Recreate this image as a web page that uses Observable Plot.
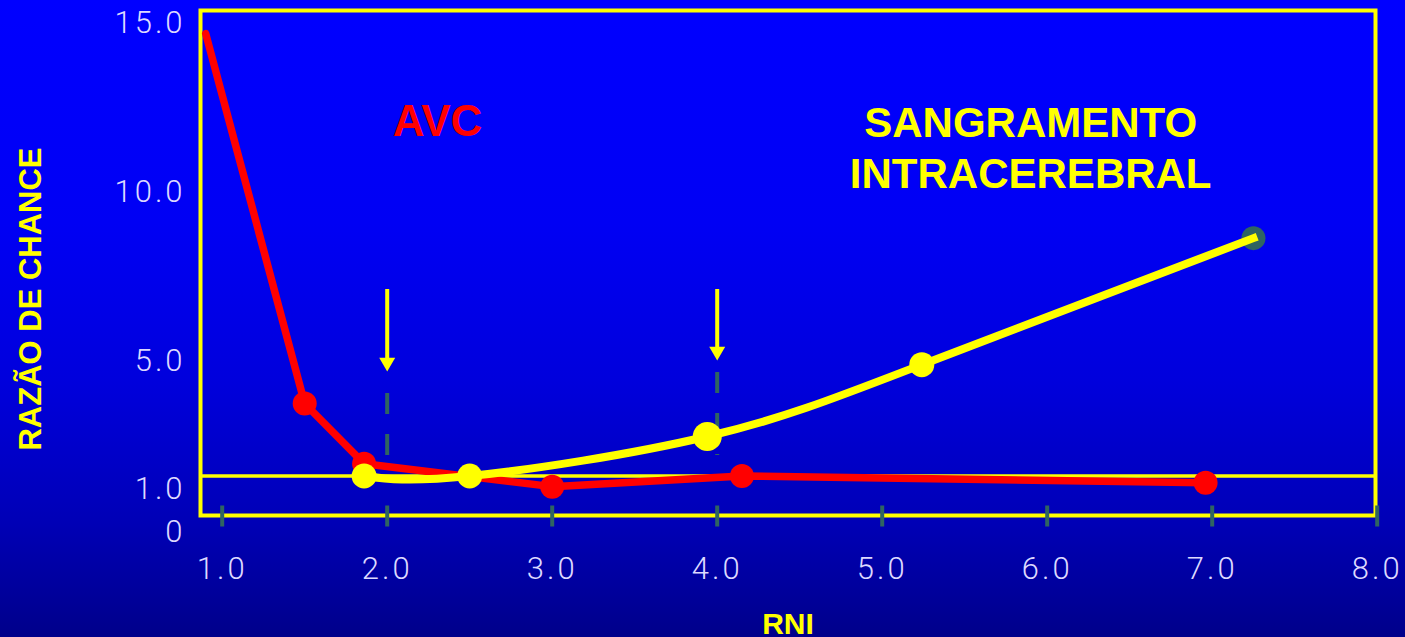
<!DOCTYPE html>
<html>
<head>
<meta charset="utf-8">
<script src="https://cdn.jsdelivr.net/npm/d3@7"></script>
<script src="https://cdn.jsdelivr.net/npm/@observablehq/plot@0.6"></script>
<style>
  html, body { margin: 0; padding: 0; }
  body {
    width: 1405px; height: 637px; overflow: hidden;
    background: linear-gradient(to bottom, #0000ff 0%, #0000f4 35%, #0000dc 60%, #0000b6 82%, #00008a 100%);
  }
  #chart svg { display: block; }
  .rnichart [aria-label$="tick label"] { letter-spacing: 3px; }
</style>
</head>
<body>
<div id="chart"></div>
<script>
// Odds ratio against INR (RNI): ischaemic stroke (AVC) vs intracerebral bleeding

// Axis ticks
const xTicks = [1, 2, 3, 4, 5, 6, 7, 8];
const xTickLabels = ["1.0", "2.0", "3.0", "4.0", "5.0", "6.0", "7.0", "8.0"];
const yTicks = [0, 1, 5, 10, 15];
const yTickLabels = ["0", "1.0", "5.0", "10.0", "15.0"];

// Stroke (AVC) curve
const avcRni = [0.9, 1.5, 1.86, 3.0, 4.15, 6.96];
const avcOdds = [14.7, 3.53, 1.43, 0.81, 1.0, 0.88];

// Intracerebral bleeding curve
const hemRni = [1.86, 2.5, 3.94, 5.24, 7.25];
const hemOdds = [1.0, 1.0, 2.38, 4.89, 8.65];

// Therapeutic range markers (arrows + dashed guides)
const targetRni = [2, 4];
const arrowTop = [7.13, 7.13];
const arrowTip = [4.65, 5.03];
const guideTop = [3.88, 4.62];
const guideBottom = [1.72, 1.72];

// Series captions
const seriesLabels = ["AVC", "SANGRAMENTO\nINTRACEREBRAL"];
const seriesLabelRni = [2.305, 5.9];
const seriesLabelOdds = [12.1, 11.36];

const RED = "#ff0000";
const YELLOW = "#ffff00";
const TEAL = "#2f6461";
const TICK_TEXT = "#ddd9ff";
const SANS = "'Liberation Sans', Arial, Helvetica, sans-serif";
const LIGHT = "Roboto, 'Liberation Sans', sans-serif";

const avc = avcRni.map((x, i) => ({x, y: avcOdds[i]}));
const hem = hemRni.map((x, i) => ({x, y: hemOdds[i]}));
const last = hem.length - 1;
const fmtX = d => xTickLabels[xTicks.indexOf(d)];
const fmtY = d => yTickLabels[yTicks.indexOf(d)];

const chart = Plot.plot({
  width: 1405,
  height: 637,
  marginLeft: 200,
  marginRight: 30,
  marginTop: 10,
  marginBottom: 122,
  className: "rnichart",
  style: {background: "transparent", fontFamily: SANS, overflow: "visible"},
  x: {type: "linear", domain: [1, 8], range: [221.7, 1376.7], axis: null},
  y: {type: "linear", domain: [0, 1, 5, 15], range: [531.5, 475.5, 361, 23], axis: null},
  marks: [
    // reference line at odds ratio 1.0
    Plot.ruleY([1], {stroke: YELLOW, strokeWidth: 3.5}),
    // dashed guides under the arrows
    Plot.ruleX(targetRni, {
      x: d => d, y1: (d, i) => guideTop[i], y2: (d, i) => guideBottom[i],
      stroke: TEAL, strokeWidth: 4, strokeDasharray: "21,20"
    }),
    // arrow shafts and heads
    Plot.ruleX(targetRni, {
      x: d => d, y1: (d, i) => arrowTop[i], y2: (d, i) => arrowTip[i],
      insetBottom: 12, stroke: YELLOW, strokeWidth: 4
    }),
    Plot.dot(targetRni, {
      x: d => d, y: (d, i) => arrowTip[i], symbol: "triangle", rotate: 180,
      r: 5.94, dy: -9.24, fill: YELLOW, stroke: "none"
    }),
    Plot.frame({stroke: YELLOW, strokeWidth: 4}),
    // AVC
    Plot.line(avc, {x: "x", y: "y", stroke: RED, strokeWidth: 7.5, strokeLinejoin: "round"}),
    Plot.dot(avc, {x: "x", y: "y", filter: (d, i) => i > 0, r: 12, fill: RED, stroke: "none"}),
    // intracerebral bleeding
    Plot.dot(hem, {x: "x", y: "y", filter: (d, i) => i === last, r: 12, fill: TEAL, stroke: "none"}),
    Plot.line(hem, {x: "x", y: "y", curve: "natural", stroke: YELLOW, strokeWidth: 8, strokeLinecap: "square"}),
    Plot.dot(hem, {x: "x", y: "y", filter: (d, i) => i < last && i !== 2, r: 12.5, fill: YELLOW, stroke: "none"}),
    Plot.dot(hem, {x: "x", y: "y", filter: (d, i) => i === 2, r: 14.5, fill: YELLOW, stroke: "none"}),
    // series captions
    Plot.text(seriesLabels, {
      filter: (d, i) => i === 0, x: (d, i) => seriesLabelRni[i], y: (d, i) => seriesLabelOdds[i],
      text: d => d, fill: RED, fontSize: 44, fontWeight: "bold", lineAnchor: "middle"
    }),
    Plot.text(seriesLabels, {
      filter: (d, i) => i === 1, x: (d, i) => seriesLabelRni[i], y: (d, i) => seriesLabelOdds[i],
      text: d => d, fill: YELLOW, fontSize: 42, fontWeight: "bold", lineAnchor: "middle", lineHeight: 1.214
    }),
    // axis titles
    Plot.text(["RAZÃO DE CHANCE"], {
      frameAnchor: "left", textAnchor: "middle", rotate: -90, dx: -169, dy: 36,
      fill: YELLOW, fontSize: 31, fontWeight: "bold", lineAnchor: "middle"
    }),
    Plot.text(["RNI"], {
      frameAnchor: "bottom", textAnchor: "middle", dy: 109, fill: YELLOW, fontSize: 30, fontWeight: "bold", lineAnchor: "middle"
    }),
    // x tick marks crossing the frame
    Plot.axisX({ticks: xTicks, label: null, tickSize: 21, dy: -9.5, stroke: TEAL, strokeWidth: 4, tickFormat: () => ""}),
    // tick labels
    Plot.axisX({
      ticks: xTicks, label: null, tickSize: 0, tickPadding: 41, tickFormat: fmtX,
      fill: TICK_TEXT, fontSize: 31, fontWeight: 300, fontFamily: LIGHT
    }),
    Plot.axisY({
      ticks: [0, 5, 10, 15], label: null, tickSize: 0, tickPadding: 15, tickFormat: fmtY,
      fill: TICK_TEXT, fontSize: 31, fontWeight: 300, fontFamily: LIGHT
    }),
    Plot.axisY({
      ticks: [1], label: null, tickSize: 0, tickPadding: 15, dy: 13.5, tickFormat: fmtY,
      fill: TICK_TEXT, fontSize: 31, fontWeight: 300, fontFamily: LIGHT
    })
  ]
});

document.getElementById("chart").append(chart);
</script>
</body>
</html>
